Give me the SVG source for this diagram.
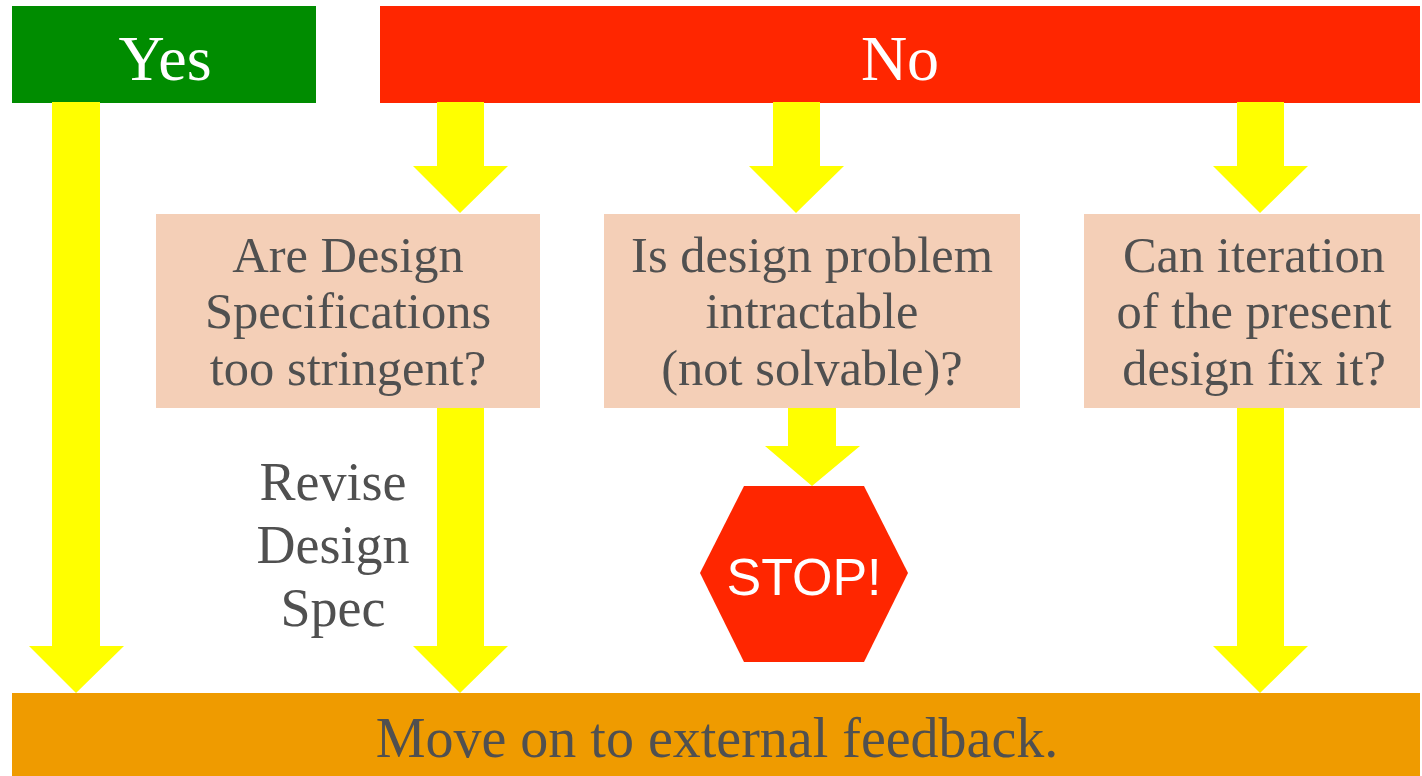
<svg xmlns="http://www.w3.org/2000/svg" width="1422" height="776" viewBox="0 0 1422 776">
  <defs>
    <style>
      .q { fill: #F4CFB7; }
      .arrow { fill: #FFFF00; }
      .lbl { font-family: "Liberation Serif", "DejaVu Serif", serif; fill: #505050; text-anchor: middle; }
      .hdr { font-family: "Liberation Serif", "DejaVu Serif", serif; fill: #FFFFFF; text-anchor: middle; font-size: 64px; }
      .qt { font-size: 50.5px; }
    </style>
  </defs>
  <rect width="1422" height="776" fill="#FFFFFF"/>

  <!-- header bars -->
  <g id="yes">
    <rect x="12" y="6" width="304" height="97" fill="#008C00"/>
    <text class="hdr" x="165" y="80">Yes</text>
  </g>
  <g id="no">
    <rect x="380" y="6" width="1040" height="97" fill="#FF2600"/>
    <text class="hdr" x="900" y="80">No</text>
  </g>

  <!-- block arrows -->
  <g id="connectors">
    <polygon class="arrow" points="52,102 100,102 100,646 124,646 76,693 29,646 52,646"/>
    <polygon class="arrow" points="437,102 484,102 484,166 508,166 460,213 413,166 437,166"/>
    <polygon class="arrow" points="773,102 820,102 820,166 844,166 796,213 749,166 773,166"/>
    <polygon class="arrow" points="1237,102 1284,102 1284,166 1308,166 1260,213 1213,166 1237,166"/>
    <polygon class="arrow" points="437,407 484,407 484,646 508,646 460,693 413,646 437,646"/>
    <polygon class="arrow" points="788,407 836,407 836,446 860,446 812,486 765,446 788,446"/>
    <polygon class="arrow" points="1237,407 1284,407 1284,646 1308,646 1260,693 1213,646 1237,646"/>
  </g>

  <!-- question boxes -->
  <g id="q-spec">
    <rect class="q" x="156" y="214" width="384" height="194"/>
    <text class="lbl qt" x="348" y="272">Are Design</text>
    <text class="lbl qt" x="348" y="328">Specifications</text>
    <text class="lbl qt" x="348" y="385">too stringent?</text>
  </g>
  <g id="q-intractable">
    <rect class="q" x="604" y="214" width="416" height="194"/>
    <text class="lbl qt" x="812" y="272">Is design problem</text>
    <text class="lbl qt" x="812" y="328">intractable</text>
    <text class="lbl qt" x="812" y="385">(not solvable)?</text>
  </g>
  <g id="q-iterate">
    <rect class="q" x="1084" y="214" width="336" height="194"/>
    <text class="lbl qt" x="1254" y="272">Can iteration</text>
    <text class="lbl qt" x="1254" y="328">of the present</text>
    <text class="lbl qt" x="1254" y="385">design fix it?</text>
  </g>

  <!-- side note -->
  <g id="revise">
    <text class="lbl" font-size="54" x="333" y="500">Revise</text>
    <text class="lbl" font-size="54" x="333" y="563">Design</text>
    <text class="lbl" font-size="54" x="333" y="626">Spec</text>
  </g>

  <!-- stop sign -->
  <g id="stop">
    <polygon points="744,486 864,486 908,573 864,662 744,662 700,573" fill="#FF2600"/>
    <text x="804" y="595" font-family="'Liberation Sans', Arial, sans-serif" font-size="52" fill="#FFFFFF" text-anchor="middle">STOP!</text>
  </g>

  <!-- outcome bar -->
  <g id="feedback">
    <rect x="12" y="693" width="1408" height="83" fill="#EF9B00"/>
    <text class="lbl" font-size="56" x="717" y="757">Move on to external feedback.</text>
  </g>
</svg>
